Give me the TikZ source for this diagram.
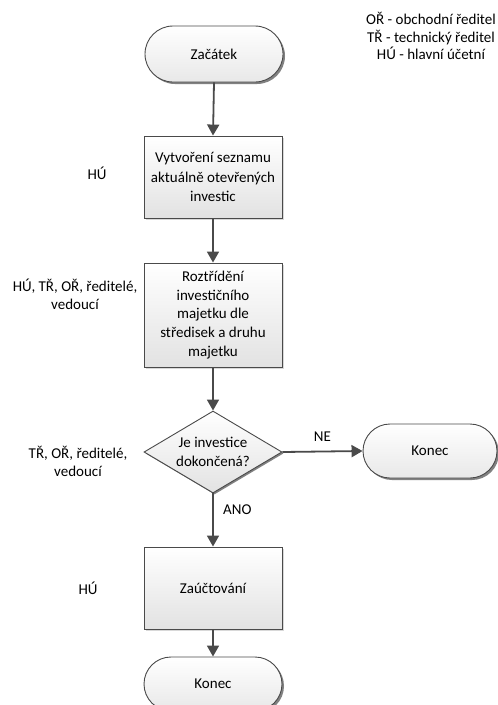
\documentclass[tikz,border=0pt]{standalone}
\usepackage{fontspec}
\setmainfont{Carlito}
\usetikzlibrary{shapes.geometric,shapes.misc,shadows,arrows.meta,positioning}
\definecolor{edge}{HTML}{4A4A4A}
\definecolor{boxbot}{HTML}{E2E2E2}
\definecolor{termbot}{HTML}{E8E8E8}
\tikzset{
  txt/.style={font=\fontsize{15}{19}\selectfont, align=center, text=black},
  procbox/.style={draw=edge, line width=0.9pt, rectangle, top color=white, bottom color=boxbot,
    minimum width=138pt, inner sep=0pt,
    drop shadow={shadow xshift=1.5pt, shadow yshift=-1.5pt, fill=black!30, opacity=0.5},
    font=\fontsize{15}{19.5}\selectfont, align=center},
  termbox/.style={draw=edge, line width=0.9pt, rounded rectangle, top color=white, bottom color=termbot,
    inner sep=0pt,
    drop shadow={shadow xshift=2pt, shadow yshift=-2pt, fill=black!70, opacity=0.7},
    font=\fontsize{15}{19}\selectfont},
  decbox/.style={draw=edge, line width=0.9pt, diamond, top color=white, bottom color=boxbot,
    minimum width=138pt, minimum height=82pt, inner sep=0pt,
    drop shadow={shadow xshift=1.5pt, shadow yshift=-1.5pt, fill=black!70, opacity=0.7}},
  flow/.style={draw=edge, line width=1.8pt, -{Triangle[length=11pt,width=12pt]}}
}
\begin{document}
\begin{tikzpicture}[x=1pt,y=-1pt]
\clip (0,0) rectangle (498,705);
\fill[white] (0,0) rectangle (498,705);

\node[txt, font=\fontsize{15}{17.5}\selectfont] (legend) at (431,36)
  {OŘ - obchodní ředitel\\TŘ - technický ředitel\\HÚ - hlavní účetní};

\node[termbox, minimum width=138pt, minimum height=56pt] (start) at (214,54) {Začátek};
\node[procbox, minimum height=82pt] (b1) at (213,177) {Vytvoření seznamu\\aktuálně otevřených\\investic};
\node[procbox, minimum height=104pt, font=\fontsize{15}{18.7}\selectfont] (b2) at (213,315)
  {Roztřídění\\investičního\\majetku dle\\středisek a druhu\\majetku};
\node[decbox] (dec) at (213,452) {};
\node[txt] (dectext) at (dec.center) {Je investice\\dokončená?};
\node[termbox, minimum width=134pt, minimum height=54pt] (konec1) at (430,451) {Konec};
\node[procbox, minimum height=82pt] (b3) at (213,588) {Zaúčtování};
\node[termbox, minimum width=138pt, minimum height=54pt] (konec2) at (213,684) {Konec};

\node[txt] (l1) at (97,173) {HÚ};
\node[txt, font=\fontsize{15}{18}\selectfont] (l2) at (75,294) {HÚ, TŘ, OŘ, ředitelé,\\vedoucí};
\node[txt, font=\fontsize{15}{18}\selectfont] (l3) at (78,461) {TŘ, OŘ, ředitelé,\\vedoucí};
\node[txt] (l4) at (88,588) {HÚ};

\draw[flow] (start.south) -- (b1.north);
\draw[flow] (b1.south) -- (b2.north);
\draw[flow] (b2.south) -- (dec.north);
\draw[flow] (dec.east) -- node[txt, above, yshift=6pt] (ne) {NE} (konec1.west);
\draw[flow] (dec.south) -- node[txt, right, xshift=6pt, pos=0.3] (ano) {ANO} (b3.north);
\draw[flow] (b3.south) -- (konec2.north);
\end{tikzpicture}
\end{document}
